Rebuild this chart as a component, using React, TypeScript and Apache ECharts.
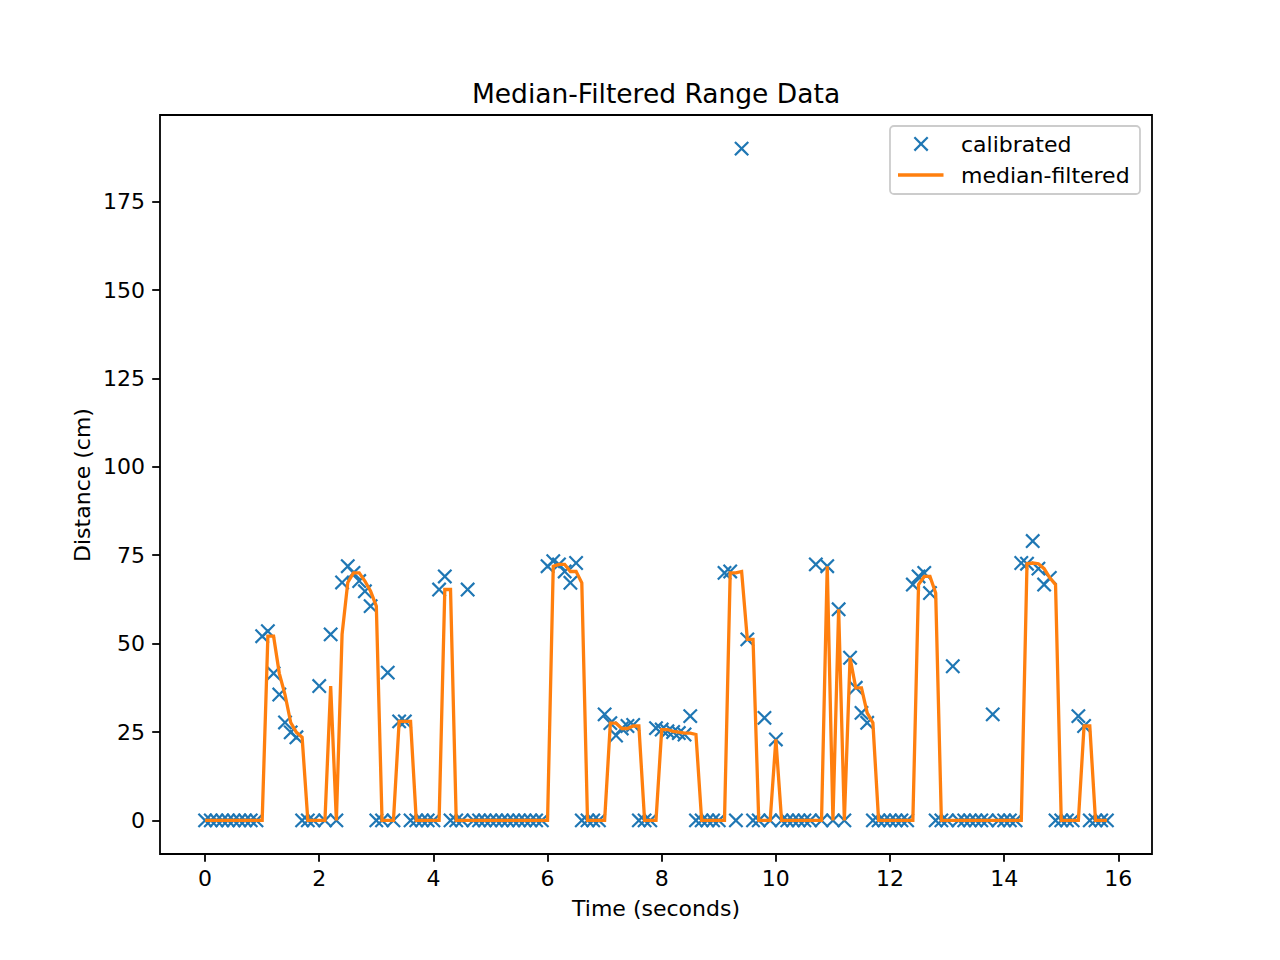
import React, { useEffect, useRef } from "react";
import * as echarts from "echarts";

const TIME = [
  0, 0.1, 0.2, 0.3, 0.4, 0.5, 0.6, 0.7, 0.8, 0.9,
  1, 1.1, 1.2, 1.3, 1.4, 1.5, 1.6, 1.7, 1.8, 1.9,
  2, 2.1, 2.2, 2.3, 2.4, 2.5, 2.6, 2.7, 2.8, 2.9,
  3, 3.1, 3.2, 3.3, 3.4, 3.5, 3.6, 3.7, 3.8, 3.9,
  4, 4.1, 4.2, 4.3, 4.4, 4.5, 4.6, 4.7, 4.8, 4.9,
  5, 5.1, 5.2, 5.3, 5.4, 5.5, 5.6, 5.7, 5.8, 5.9,
  6, 6.1, 6.2, 6.3, 6.4, 6.5, 6.6, 6.7, 6.8, 6.9,
  7, 7.1, 7.2, 7.3, 7.4, 7.5, 7.6, 7.7, 7.8, 7.9,
  8, 8.1, 8.2, 8.3, 8.4, 8.5, 8.6, 8.7, 8.8, 8.9,
  9, 9.1, 9.2, 9.3, 9.4, 9.5, 9.6, 9.7, 9.8, 9.9,
  10, 10.1, 10.2, 10.3, 10.4, 10.5, 10.6, 10.7, 10.8, 10.9,
  11, 11.1, 11.2, 11.3, 11.4, 11.5, 11.6, 11.7, 11.8, 11.9,
  12, 12.1, 12.2, 12.3, 12.4, 12.5, 12.6, 12.7, 12.8, 12.9,
  13, 13.1, 13.2, 13.3, 13.4, 13.5, 13.6, 13.7, 13.8, 13.9,
  14, 14.1, 14.2, 14.3, 14.4, 14.5, 14.6, 14.7, 14.8, 14.9,
  15, 15.1, 15.2, 15.3, 15.4, 15.5, 15.6, 15.7, 15.8,
];

const CALIBRATED = [
  0, 0, 0, 0, 0, 0, 0, 0, 0, 0,
  52.1, 53.5, 41.6, 35.6, 27.7, 24.9, 23.5, 0, 0, 0,
  38, 0, 52.6, 0, 67.3, 71.9, 70, 67.7, 64.8, 60.6,
  0, 0, 41.8, 0, 28, 28, 0, 0, 0, 0,
  0, 65.3, 69, 0, 0, 0, 65.3, 0, 0, 0,
  0, 0, 0, 0, 0, 0, 0, 0, 0, 0,
  71.9, 73.3, 72.4, 70.4, 67.2, 72.8, 0, 0, 0, 0,
  30, 27.5, 24, 26, 26.7, 27, 0, 0, 0, 26.1,
  25.7, 25.2, 25, 24.7, 24.3, 29.5, 0, 0, 0, 0,
  0, 70, 70.4, 0, 190, 51.2, 0, 0, 29, 0,
  22.9, 0, 0, 0, 0, 0, 0, 72.4, 0, 71.9,
  0, 59.7, 0, 46, 37.5, 30.4, 27.6, 0, 0, 0,
  0, 0, 0, 0, 66.7, 69, 70, 64.3, 0, 0,
  0, 43.6, 0, 0, 0, 0, 0, 0, 30, 0,
  0, 0, 0, 72.8, 72.6, 79, 71.2, 66.7, 68.6, 0,
  0, 0, 0, 29.5, 26.7, 0, 0, 0, 0,
];

const MEDIAN_FILTERED = [
  0, 0, 0, 0, 0, 0, 0, 0, 0, 0,
  0, 52.1, 52.1, 41.6, 35.6, 27.7, 24.9, 23.5, 0, 0,
  0, 0, 38, 0, 52.6, 67.3, 70, 70, 67.7, 64.8,
  60.6, 0, 0, 0, 28, 28, 28, 0, 0, 0,
  0, 0, 65.3, 65.3, 0, 0, 0, 0, 0, 0,
  0, 0, 0, 0, 0, 0, 0, 0, 0, 0,
  0, 71.9, 72.4, 72.4, 70.4, 70.4, 67.2, 0, 0, 0,
  0, 27.5, 27.5, 26, 26, 26.7, 26.7, 0, 0, 0,
  25.7, 25.7, 25.2, 25, 24.7, 24.7, 24.3, 0, 0, 0,
  0, 0, 70, 70, 70.4, 51.2, 51.2, 0, 0, 0,
  22.9, 0, 0, 0, 0, 0, 0, 0, 0, 71.9,
  0, 59.7, 0, 46, 37.5, 37.5, 30.4, 27.6, 0, 0,
  0, 0, 0, 0, 0, 66.7, 69, 69, 64.3, 0,
  0, 0, 0, 0, 0, 0, 0, 0, 0, 0,
  0, 0, 0, 0, 72.6, 72.8, 72.6, 71.2, 68.6, 66.7,
  0, 0, 0, 0, 26.7, 26.7, 0, 0, 0,
];

const X_TICKS = [0, 2, 4, 6, 8, 10, 12, 14, 16];
const Y_TICKS = [0, 25, 50, 75, 100, 125, 150, 175];

const BLUE = "#1f77b4";
const ORANGE = "#ff7f0e";
const FONT = "DejaVu Sans";
const X_SYMBOL =
  "path://M20,22.34L22.34,20L13.51,11.17L22.34,2.34L20,0L11.17,8.83L2.34,0L0,2.34L8.83,11.17L0,20L2.34,22.34L11.17,13.51Z";

export default function App() {
  const ref = useRef<HTMLDivElement>(null);

  useEffect(() => {
    if (!ref.current) return;
    const chart = echarts.init(ref.current, null, { renderer: "svg" });

    const calPts = TIME.map((t, i) => [t, CALIBRATED[i]]);
    const medPts = TIME.map((t, i) => [t, MEDIAN_FILTERED[i]]);

    const gl = { left: 160, top: 115, width: 992, height: 739 };

    chart.setOption({
      animation: false,
      backgroundColor: "#ffffff",
      grid: {
        ...gl,
        show: true,
        borderColor: "#000000",
        borderWidth: 1.8,
        backgroundColor: "transparent",
      },
      xAxis: {
        type: "value",
        position: "bottom",
        min: -0.79,
        max: 16.59,
        axisLine: { show: false, onZero: false },
        splitLine: { show: false },
        axisTick: {
          show: true,
          inside: false,
          length: 7.8,
          lineStyle: { color: "#000", width: 1.8 },
          customValues: X_TICKS,
        },
        axisLabel: {
          show: true,
          margin: 13,
          color: "#000",
          fontFamily: FONT,
          fontSize: 22,
          customValues: X_TICKS,
        },
      },
      yAxis: {
        type: "value",
        position: "left",
        min: -9.5,
        max: 199.5,
        axisLine: { show: false, onZero: false },
        splitLine: { show: false },
        axisTick: {
          show: true,
          inside: false,
          length: 7.8,
          lineStyle: { color: "#000", width: 1.8 },
          customValues: Y_TICKS,
        },
        axisLabel: {
          show: true,
          margin: 15,
          color: "#000",
          fontFamily: FONT,
          fontSize: 22,
          customValues: Y_TICKS,
        },
      },
      series: [
        {
          name: "calibrated",
          type: "scatter",
          data: calPts,
          symbol: X_SYMBOL,
          symbolSize: 14.9,
          itemStyle: { color: BLUE, opacity: 1 },
          z: 2,
          silent: true,
        },
        {
          name: "median-filtered",
          type: "line",
          data: medPts,
          showSymbol: false,
          symbol: "none",
          lineStyle: { color: ORANGE, width: 3.3, cap: "butt", join: "miter" },
          z: 3,
          silent: true,
        },
      ],
      graphic: [
        {
          type: "text",
          x: 656,
          y: 93,
          style: {
            text: "Median-Filtered Range Data",
            fill: "#000",
            font: `26.5px "${FONT}"`,
            textAlign: "center",
            textVerticalAlign: "middle",
          },
        },
        {
          type: "text",
          x: 656,
          y: 908,
          style: {
            text: "Time (seconds)",
            fill: "#000",
            font: `22px "${FONT}"`,
            textAlign: "center",
            textVerticalAlign: "middle",
          },
        },
        {
          type: "text",
          x: 82,
          y: 485,
          rotation: Math.PI / 2,
          style: {
            text: "Distance (cm)",
            fill: "#000",
            font: `22px "${FONT}"`,
            textAlign: "center",
            textVerticalAlign: "middle",
          },
        },
        {
          type: "rect",
          shape: { x: 890, y: 126, width: 250, height: 68, r: 4 },
          style: {
            fill: "rgba(255,255,255,0.8)",
            stroke: "#cccccc",
            lineWidth: 1.8,
          },
          z: 10,
        },
        {
          type: "line",
          shape: { x1: 914.4, y1: 137.3, x2: 927.7, y2: 150.6 },
          style: { stroke: BLUE, lineWidth: 2.2 },
          z: 11,
        },
        {
          type: "line",
          shape: { x1: 914.4, y1: 150.6, x2: 927.7, y2: 137.3 },
          style: { stroke: BLUE, lineWidth: 2.2 },
          z: 11,
        },
        {
          type: "line",
          shape: { x1: 898, y1: 175, x2: 943.5, y2: 175 },
          style: { stroke: ORANGE, lineWidth: 3.3 },
          z: 11,
        },
        {
          type: "text",
          x: 961,
          y: 144,
          style: {
            text: "calibrated",
            fill: "#000",
            font: `22px "${FONT}"`,
            textAlign: "left",
            textVerticalAlign: "middle",
          },
          z: 11,
        },
        {
          type: "text",
          x: 961,
          y: 175,
          style: {
            text: "median-filtered",
            fill: "#000",
            font: `22px "${FONT}"`,
            textAlign: "left",
            textVerticalAlign: "middle",
          },
          z: 11,
        },
      ],
    });

    return () => chart.dispose();
  }, []);

  return (
    <div
      ref={ref}
      style={{ position: "fixed", left: 0, top: 0, width: 1280, height: 960 }}
    />
  );
}
